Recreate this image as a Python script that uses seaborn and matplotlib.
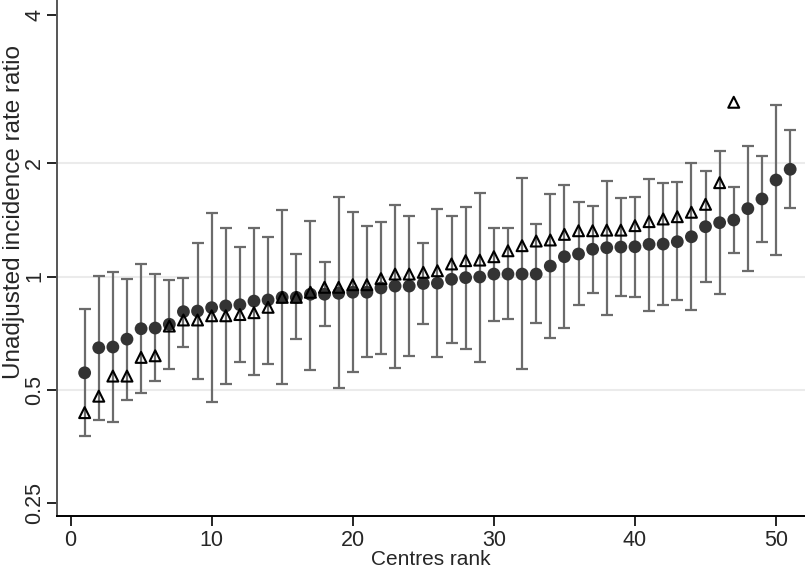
import seaborn as sns
import pandas as pd
import matplotlib.pyplot as plt
from matplotlib.ticker import FixedLocator, NullLocator

# adjusted (circles) with 95% CI, unadjusted (triangles), by centre rank
rank = list(range(1, 52))
irr = [0.554, 0.646, 0.649, 0.681, 0.726, 0.729, 0.746, 0.806, 0.809, 0.826,
       0.835, 0.841, 0.860, 0.866, 0.880, 0.880, 0.897, 0.897, 0.902, 0.908,
       0.908, 0.932, 0.943, 0.943, 0.958, 0.960, 0.983, 0.993, 0.997, 1.015,
       1.015, 1.015, 1.015, 1.066, 1.129, 1.148, 1.182, 1.193, 1.198, 1.200,
       1.218, 1.220, 1.238, 1.276, 1.357, 1.391, 1.414, 1.516, 1.609, 1.807,
       1.930]
ci_low = [0.376, 0.415, 0.410, 0.470, 0.490, 0.527, 0.567, 0.650, 0.532, 0.464,
          0.518, 0.591, 0.547, 0.586, 0.518, 0.683, 0.565, 0.740, 0.506, 0.557,
          0.612, 0.623, 0.571, 0.615, 0.747, 0.611, 0.666, 0.642, 0.593, 0.763,
          0.769, 0.566, 0.750, 0.687, 0.730, 0.838, 0.906, 0.790, 0.885, 0.882,
          0.811, 0.840, 0.866, 0.814, 0.965, 0.898, 1.157, 1.032, 1.233, 1.139,
          1.522]
ci_high = [0.819, 1.003, 1.026, 0.985, 1.080, 1.014, 0.979, 0.991, 1.226, 1.476,
           1.347, 1.201, 1.349, 1.272, 1.504, 1.146, 1.408, 1.093, 1.629, 1.483,
           1.363, 1.397, 1.553, 1.452, 1.230, 1.511, 1.452, 1.529, 1.672, 1.349,
           1.344, 1.826, 1.380, 1.659, 1.753, 1.577, 1.538, 1.796, 1.621, 1.631,
           1.819, 1.771, 1.782, 2.003, 1.913, 2.159, 1.728, 2.222, 2.090, 2.863,
           2.456]
tri_rank = list(range(1, 48))
tri_val = [0.434, 0.480, 0.543, 0.543, 0.609, 0.615, 0.738, 0.766, 0.766, 0.786,
           0.786, 0.792, 0.801, 0.828, 0.880, 0.880, 0.908, 0.936, 0.936, 0.951,
           0.951, 0.987, 1.015, 1.015, 1.026, 1.036, 1.080, 1.102, 1.106, 1.129,
           1.171, 1.208, 1.243, 1.251, 1.295, 1.324, 1.324, 1.329, 1.329, 1.366,
           1.400, 1.423, 1.443, 1.483, 1.557, 1.778, 2.911]

ytick_vals = [0.25, 0.5, 1, 2, 4.97]
ytick_labels = ["0.25", "0.5", "1", "2", "4"]

df = pd.DataFrame({"rank": rank, "irr": irr, "lo": ci_low, "hi": ci_high})
tri = pd.DataFrame({"rank": tri_rank, "irr": tri_val})

sns.set_style("white")
plt.rcParams["font.family"] = ["Liberation Sans", "DejaVu Sans"]

fig = plt.figure(figsize=(8.05, 5.70), dpi=100)
ax = fig.add_axes([0.0708, 0.0947, 0.9292, 0.9053])

ax.set_yscale("log")
for g in [0.5, 1, 2]:
    ax.axhline(g, color="#ebebeb", lw=1.5, zorder=0)

ax.errorbar(df["rank"], df["irr"],
            yerr=[df["irr"] - df["lo"], df["hi"] - df["irr"]],
            fmt="none", ecolor="#6b6b6b", elinewidth=1.6, capsize=4.5,
            capthick=1.6, zorder=2)
sns.scatterplot(data=df, x="rank", y="irr", ax=ax, marker="o", s=85,
                color="#333333", edgecolor="none", zorder=3)
sns.scatterplot(data=tri, x="rank", y="irr", ax=ax, marker="^", s=62,
                facecolor="none", edgecolor="black", linewidth=1.5, zorder=4)

ax.set_xlim(-0.96, 52.05)
ax.set_ylim(0.2302, 5.45)
ax.set_xticks([0, 10, 20, 30, 40, 50])
ax.yaxis.set_major_locator(FixedLocator(ytick_vals))
ax.yaxis.set_minor_locator(NullLocator())
ax.set_yticklabels(ytick_labels, rotation=90, va="center")

ax.set_xlabel("Centres rank", fontsize=15, labelpad=-1)
ax.set_ylabel("Unadjusted incidence rate ratio", fontsize=17.5)
ax.yaxis.set_label_coords(-0.043, 0.59)
ax.tick_params(axis="both", labelsize=15.5, length=7, width=1.2, color="black",
               direction="out", left=True, bottom=True)
ax.tick_params(axis="y", pad=1.5)
ax.tick_params(axis="x", pad=3)

for s in ["top", "right"]:
    ax.spines[s].set_visible(False)
ax.spines["left"].set_color("#555555")
ax.spines["bottom"].set_color("black")
ax.spines["left"].set_linewidth(1.4)
ax.spines["bottom"].set_linewidth(1.4)

fig.savefig("out.png", dpi=100)
